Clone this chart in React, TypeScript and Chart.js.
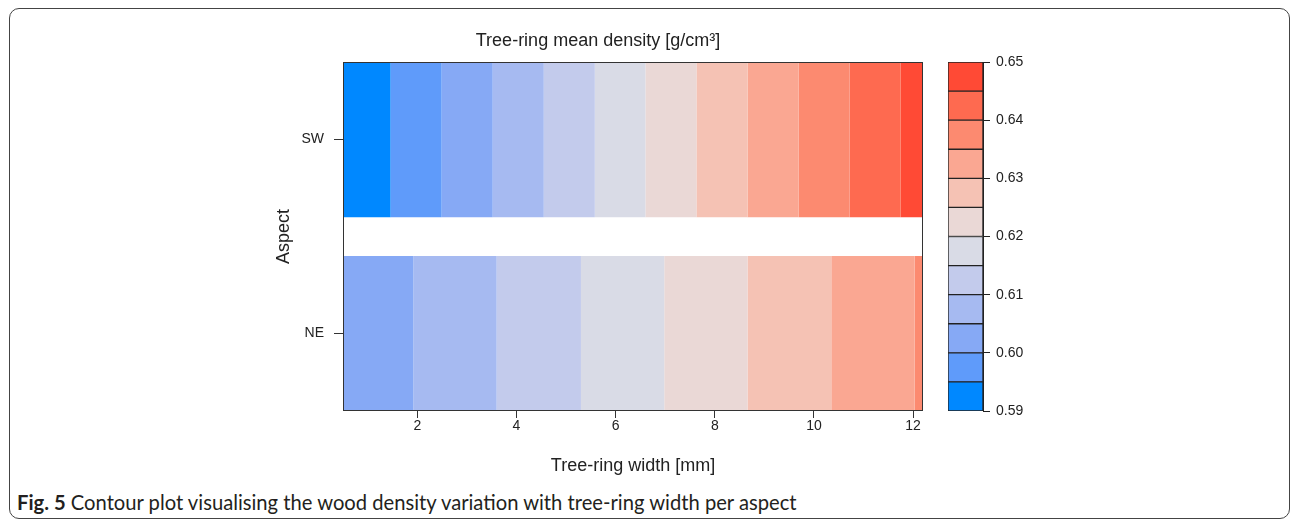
import React, { useEffect, useRef } from 'react';
import { Chart, registerables } from 'chart.js';
Chart.register(...registerables);

// ---- data ----
const ASPECT_LABELS = ['NE', 'SW'];
const ASPECT_POS = [1, 2];
const LEVELS = [0.59, 0.595, 0.6, 0.605, 0.61, 0.615, 0.62, 0.625, 0.63, 0.635, 0.64, 0.645, 0.65];
const LEVEL_COLORS = [
  '#0088FF', '#5F9BFA', '#86A9F5', '#A6BAF1', '#C3CBEC', '#D9DBE6',
  '#EAD8D6', '#F5C2B4', '#FAA792', '#FC8A70', '#FE6A50', '#FF4A35',
];
const SW_BREAKS = [0.5, 1.46, 2.49, 3.52, 4.55, 5.58, 6.6, 7.63, 8.66, 9.69, 10.72, 11.75, 12.2];
const SW_FIRST_LEVEL = 0;
const NE_BREAKS = [0.5, 1.92, 3.6, 5.3, 6.98, 8.66, 10.35, 12.03, 12.2];
const NE_FIRST_LEVEL = 2;
const X_TICKS = [2, 4, 6, 8, 10, 12];
const CB_TICKS = [0.59, 0.6, 0.61, 0.62, 0.63, 0.64, 0.65];

const FONT = "'Liberation Sans', Arial, sans-serif";
const INK = '#222';

const framePlugin = {
  id: 'frame',
  afterDraw(chart: any) {
    const { ctx, chartArea: a } = chart;
    ctx.save();
    ctx.strokeStyle = '#333';
    ctx.lineWidth = 1;
    ctx.strokeRect(Math.round(a.left) + 0.5, Math.round(a.top) + 0.5,
      Math.round(a.right - a.left) - 1, Math.round(a.bottom - a.top) - 1);
    ctx.restore();
  },
};

function buildMainDatasets() {
  const sets: any[] = [];
  for (let i = 0; i < LEVEL_COLORS.length; i++) {
    const data: any[] = [];
    const ks = i - SW_FIRST_LEVEL;
    if (ks >= 0 && ks < SW_BREAKS.length - 1) data.push({ x: [SW_BREAKS[ks], SW_BREAKS[ks + 1]], y: ASPECT_POS[1] });
    const kn = i - NE_FIRST_LEVEL;
    if (kn >= 0 && kn < NE_BREAKS.length - 1) data.push({ x: [NE_BREAKS[kn], NE_BREAKS[kn + 1]], y: ASPECT_POS[0] });
    sets.push({
      label: `${LEVELS[i]}-${LEVELS[i + 1]}`,
      data,
      backgroundColor: LEVEL_COLORS[i],
      borderWidth: 0,
      grouped: false,
      barPercentage: 0.8,
      categoryPercentage: 1,
    });
  }
  return sets;
}

function MainChart() {
  const ref = useRef<HTMLCanvasElement>(null);
  useEffect(() => {
    const chart = new Chart(ref.current!, {
      type: 'bar',
      data: { datasets: buildMainDatasets() },
      plugins: [framePlugin],
      options: {
        indexAxis: 'y',
        animation: false,
        responsive: false,
        events: [],
        layout: { padding: { left: 0, right: 70, top: 0, bottom: 0 } },
        plugins: {
          legend: { display: false },
          tooltip: { enabled: false },
          title: {
            display: true,
            text: 'Tree-ring mean density [g/cm³]',
            color: INK,
            font: { family: FONT, size: 18, weight: 'normal' },
            padding: { top: 15, bottom: 10.5 },
          },
        },
        scales: {
          x: {
            type: 'linear',
            min: 0.5,
            max: 12.2,
            offset: false,
            afterBuildTicks: (s: any) => { s.ticks = X_TICKS.map((v) => ({ value: v })); },
            afterFit: (s: any) => { s.height = 74; },
            border: { display: false },
            grid: { drawOnChartArea: false, drawTicks: true, tickLength: 7, color: '#333', offset: false },
            ticks: { color: INK, font: { family: FONT, size: 14 }, padding: 0, maxRotation: 0 },
            title: {
              display: true,
              text: 'Tree-ring width [mm]',
              color: INK,
              font: { family: FONT, size: 18 },
              padding: { top: 0, bottom: 8 },
            },
          },
          y: {
            type: 'linear',
            min: 0.6,
            max: 2.4,
            offset: false,
            afterBuildTicks: (s: any) => { s.ticks = ASPECT_POS.map((v) => ({ value: v })); },
            afterFit: (s: any) => { s.width = 70; },
            border: { display: false },
            grid: { drawOnChartArea: false, drawTicks: true, tickLength: 9, color: '#333', offset: false },
            ticks: {
              color: INK,
              font: { family: FONT, size: 14 },
              padding: 10,
              callback: (v: any) => ASPECT_LABELS[ASPECT_POS.indexOf(v)] ?? '',
            },
            title: {
              display: true,
              text: 'Aspect',
              color: INK,
              font: { family: FONT, size: 18 },
              padding: { top: 0, bottom: 0 },
            },
          },
        },
      } as any,
    });
    return () => chart.destroy();
  }, []);
  return <canvas ref={ref} width={720} height={470}
    style={{ position: 'absolute', left: 273, top: 15, width: 720, height: 470 }} />;
}

function ColorBar() {
  const ref = useRef<HTMLCanvasElement>(null);
  useEffect(() => {
    const datasets = LEVEL_COLORS.map((c, i) => ({
      label: `${LEVELS[i]}`,
      data: [[LEVELS[i], LEVELS[i + 1]]],
      backgroundColor: c,
      borderColor: INK,
      borderWidth: 1,
      borderSkipped: false,
      grouped: false,
      barPercentage: 1,
      categoryPercentage: 1,
    }));
    const chart = new Chart(ref.current!, {
      type: 'bar',
      data: { labels: [''], datasets },
      options: {
        animation: false,
        responsive: false,
        events: [],
        layout: { padding: { left: 8, top: 22, bottom: 24, right: 0 } },
        plugins: { legend: { display: false }, tooltip: { enabled: false } },
        scales: {
          x: { display: false },
          y: {
            position: 'right',
            min: 0.59,
            max: 0.65,
            afterBuildTicks: (s: any) => { s.ticks = CB_TICKS.map((v) => ({ value: v })); },
            afterFit: (s: any) => { s.width = 67; },
            border: { display: true, color: INK },
            grid: { drawOnChartArea: false, drawTicks: true, tickLength: 7, color: INK },
            ticks: {
              color: INK,
              font: { family: FONT, size: 14 },
              padding: 6,
              callback: (v: any) => Number(v).toFixed(2),
            },
          },
        },
      } as any,
    });
    return () => chart.destroy();
  }, []);
  return <canvas ref={ref} width={110} height={395}
    style={{ position: 'absolute', left: 940, top: 40, width: 110, height: 395 }} />;
}

export default function App() {
  return (
    <div style={{ position: 'absolute', left: 0, top: 0, width: 1292, height: 521, background: '#fff', overflow: 'hidden' }}>
      <div style={{
        position: 'absolute', left: 9, top: 8, width: 1281, height: 511,
        border: '1.5px solid #444', borderRadius: 10, boxSizing: 'border-box',
      }} />
      <MainChart />
      <ColorBar />
      <div style={{
        position: 'absolute', left: 17, top: 490, whiteSpace: 'nowrap',
        fontFamily: "Lato, 'Open Sans', sans-serif", fontSize: 20.2, color: '#231f20',
      }}>
        <b>Fig. 5</b> Contour plot visualising the wood density variation with tree-ring width per aspect
      </div>
    </div>
  );
}
